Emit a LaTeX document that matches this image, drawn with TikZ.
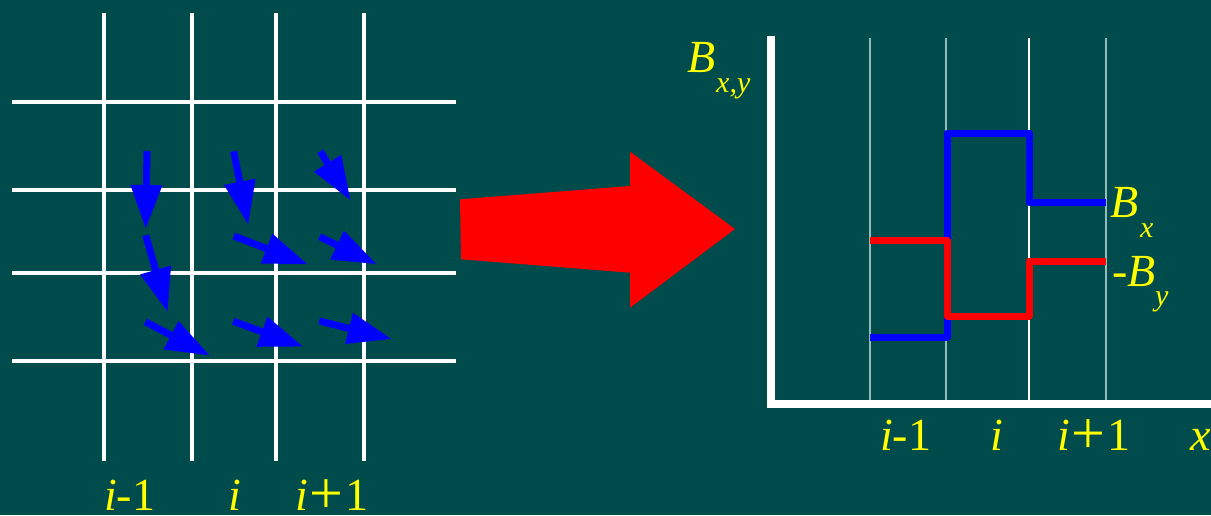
\documentclass[tikz,border=0pt]{standalone}
\usepackage{fontspec}
\usepackage{graphicx}
\setmainfont{Liberation Serif}
\usetikzlibrary{arrows.meta}
\definecolor{bg}{RGB}{0,75,75}
\definecolor{lab}{RGB}{255,255,0}
\definecolor{cellgray}{RGB}{150,185,185}
\newcommand{\bigplus}{\kern2pt\raisebox{-3pt}{\fontsize{60}{60}\selectfont +}\kern2pt}
\begin{document}
\begin{tikzpicture}[x=1pt,y=-1pt,
  gridline/.style={white, line width=4pt},
  vecarrow/.style={blue, line width=7pt, -{Triangle[length=44pt,width=30pt]}},
  lbl/.style={text=lab, anchor=base west, inner sep=0pt, font=\fontsize{46}{50}\selectfont},
  sublbl/.style={text=lab, anchor=base west, inner sep=0pt, font=\fontsize{30}{34}\selectfont\itshape},
  cellline/.style={draw=cellgray, line width=1.3pt},
  stepline/.style={line width=7pt, line join=round}]
\fill[bg] (0,0) rectangle (1211,515);
\useasboundingbox (0,0) rectangle (1211,515);
% left grid
\foreach \gx in {104,192,276,364} \draw[gridline] (\gx,13) -- (\gx,461);
\foreach \gy in {101.7,190,273,361} \draw[gridline] (12,\gy) -- (456,\gy);
% vectors
\coordinate (a1s) at (147,151);   \coordinate (a1t) at (145.7,229);
\coordinate (a2s) at (233.7,151.3); \coordinate (a2t) at (248.3,225);
\coordinate (a3s) at (320.3,151.3); \coordinate (a3t) at (350.7,200.7);
\coordinate (a4s) at (145.7,235.3); \coordinate (a4t) at (167.7,312.3);
\coordinate (a5s) at (233.7,236);   \coordinate (a5t) at (307.7,264.3);
\coordinate (a6s) at (319.7,236.7); \coordinate (a6t) at (376.7,264.3);
\coordinate (a7s) at (145.3,321.7); \coordinate (a7t) at (210,355.7);
\coordinate (a8s) at (233.3,321.3); \coordinate (a8t) at (303.3,346.7);
\coordinate (a9s) at (319.3,321);   \coordinate (a9t) at (391.7,339);
\foreach \k in {1,...,9} \draw[vecarrow] (a\k s) -- (a\k t);
% left labels
\node[lbl] (l1) at (104,510) {\textit{i}-1};
\node[lbl] (l2) at (228,510) {\textit{i}};
\node[lbl] (l3) at (295,510) {\textit{i}\bigplus1};
% big red arrow
\fill[red] (460,199.3) -- (630,186) -- (630,151.7) -- (735,229) -- (630,307.7) -- (630,272.7) -- (461,259.3) -- cycle;
% right graph
\foreach \cx in {870,946,1106} \draw[cellline] (\cx,38) -- (\cx,400);
\draw[white, line width=1.3pt] (1029,38) -- (1029,400);
\draw[white, line width=8pt] (771,36) -- (771,404) -- (1211,404);
\draw[stepline, blue] (870,337) -- (947,337) -- (947,133) -- (1029,133) -- (1029,202) -- (1106,202);
\draw[stepline, red] (870,240) -- (947,240) -- (947,316) -- (1029,316) -- (1029,261) -- (1106,261);
% right labels
\node[lbl] (bxy) at (687,72) {\textit{B}};
\node[sublbl] (bxys) at (716,92) {x,y};
\node[lbl] (bx) at (1110,217) {\textit{B}};
\node[sublbl] (bxs) at (1140,237) {x};
\node[lbl] (by) at (1112,286) {-\textit{B}};
\node[sublbl] (bys) at (1155,305) {y};
\node[lbl] (r1) at (880,450) {\textit{i}-1};
\node[lbl] (r2) at (990,450) {\textit{i}};
\node[lbl] (r3) at (1057,450) {\textit{i}\bigplus1};
\node[lbl] (rx) at (1190,450) {\textit{x}};
\end{tikzpicture}
\end{document}
